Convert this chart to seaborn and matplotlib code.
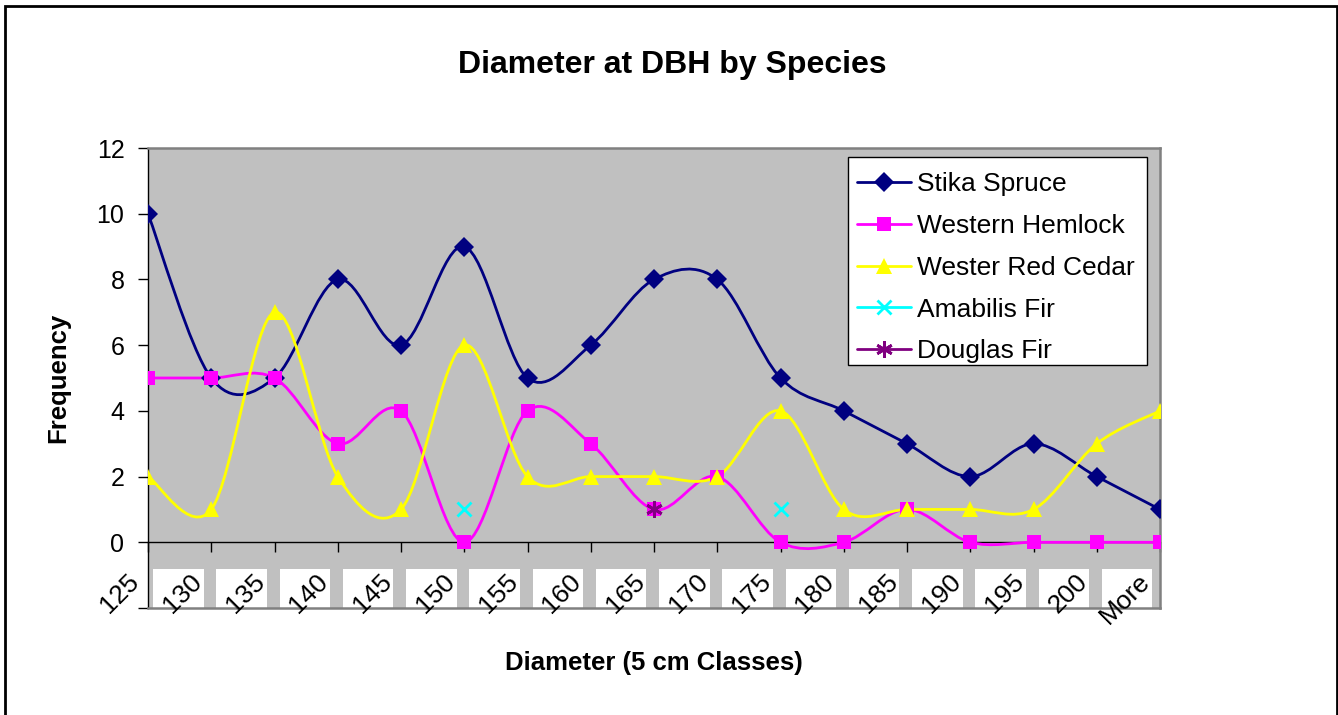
import numpy as np
import matplotlib
matplotlib.use("Agg")
import matplotlib.pyplot as plt
from matplotlib.path import Path
from matplotlib.patches import PathPatch, Rectangle
from matplotlib.lines import Line2D
import seaborn as sns

# data
classes = ["125", "130", "135", "140", "145", "150", "155", "160", "165",
           "170", "175", "180", "185", "190", "195", "200", "More"]
nan = np.nan
stika_spruce = [10, 5, 5, 8, 6, 9, 5, 6, 8, 8, 5, 4, 3, 2, 3, 2, 1]
western_hemlock = [5, 5, 5, 3, 4, 0, 4, 3, 1, 2, 0, 0, 1, 0, 0, 0, 0]
wester_red_cedar = [2, 1, 7, 2, 1, 6, 2, 2, 2, 2, 4, 1, 1, 1, 1, 3, 4]
amabilis_fir = [nan, nan, nan, nan, nan, 1, nan, nan, nan, nan, 1, nan, nan, nan, nan, nan, nan]
douglas_fir = [nan, nan, nan, nan, nan, nan, nan, nan, 1, nan, nan, nan, nan, nan, nan, nan, nan]

series = [
    ("Stika Spruce", stika_spruce, "#000080", "D", 10),
    ("Western Hemlock", western_hemlock, "#FF00FF", "s", 10.5),
    ("Wester Red Cedar", wester_red_cedar, "#FFFF00", "^", 11.5),
    ("Amabilis Fir", amabilis_fir, "#00FFFF", "x", 10),
    ("Douglas Fir", douglas_fir, "#800080", (6, 2, 0), 12),
]

sns.set_style("white")
plt.rcParams["font.family"] = ["Liberation Sans", "DejaVu Sans"]
plt.rcParams["text.color"] = "black"
plt.rcParams["ytick.labelcolor"] = "black"


def smooth_path(xs, ys):
    # Excel-like smoothed line: cubic bezier through the points
    pts = np.column_stack([xs, ys]).astype(float)
    n = len(pts)
    verts = [pts[0]]
    codes = [Path.MOVETO]
    for i in range(n - 1):
        p0 = pts[max(i - 1, 0)]
        p1 = pts[i]
        p2 = pts[i + 1]
        p3 = pts[min(i + 2, n - 1)]
        verts += [p1 + (p2 - p0) / 6, p2 - (p3 - p1) / 6, p2]
        codes += [Path.CURVE4] * 3
    return Path(verts, codes)


fig = plt.figure(figsize=(13.38, 7.15), dpi=100)
ax = fig.add_axes([148 / 1338, 107 / 715, 1012 / 1338, 460 / 715])
ax.set_facecolor("#C0C0C0")

x_idx = np.arange(len(classes))
handles = []
for name, vals, color, marker, ms in series:
    vals = np.array(vals, dtype=float)
    ok = ~np.isnan(vals)
    # split into runs of consecutive values, draw a smooth curve for each
    run = []
    for i in range(len(vals) + 1):
        if i < len(vals) and ok[i]:
            run.append(i)
        else:
            if len(run) > 1:
                ax.add_patch(PathPatch(smooth_path(x_idx[run], vals[run]), facecolor="none",
                                       edgecolor=color, lw=2, zorder=2))
            run = []
    mew = 2 if marker in ("x", (6, 2, 0)) else 0
    sns.lineplot(x=x_idx[ok], y=vals[ok], ax=ax, color=color, marker=marker, markersize=ms,
                 linestyle="none", markeredgewidth=mew, markeredgecolor=color,
                 legend=False, sort=False, zorder=3)
    handles.append(Line2D([], [], color=color, lw=2, marker=marker, markersize=ms,
                          markeredgewidth=mew, markeredgecolor=color, label=name))

ax.set_xlim(0, len(classes) - 1)
ax.set_ylim(-2, 12)
ax.set_yticks(range(-2, 13, 2))
ax.set_yticklabels([""] + [str(v) for v in range(0, 13, 2)])
ax.tick_params(axis="y", direction="out", length=7, width=1, color="black",
               labelsize=18, pad=10, left=True)
ax.set_xticks([])
ax.set_xlabel("")
ax.set_ylabel("")

for s in ["top", "right", "bottom"]:
    ax.spines[s].set_color("#808080")
    ax.spines[s].set_linewidth(1.8)
ax.spines["left"].set_color("black")
ax.spines["left"].set_linewidth(1)

# category axis crossing at zero
sec = ax.secondary_xaxis(2 / 14)
sec.set_xticks(x_idx)
sec.set_xticklabels([])
sec.tick_params(direction="out", length=7, width=1, color="black")
sec.spines["bottom"].set_color("black")
sec.spines["bottom"].set_linewidth(1)

# category labels on white boxes
for i, lab in enumerate(classes):
    ax.add_patch(Rectangle((i - 0.92, -2), 0.8, 1.18, facecolor="white",
                           edgecolor="none", zorder=1))
    ax.text(i - 0.21, -1.08, lab, rotation=45, ha="right", va="center",
            rotation_mode="anchor", fontsize=19, zorder=4)

# legend box drawn separately (Excel pads it unevenly)
ax.add_patch(Rectangle((848 / 1338, 1 - 365 / 715), 299 / 1338, 208 / 715,
                       transform=fig.transFigure, facecolor="white", edgecolor="black",
                       lw=1, clip_on=False, zorder=4.5))
leg = ax.legend(handles=handles, loc="upper left", bbox_to_anchor=(857 / 1338, 1 - 172.5 / 715),
                bbox_transform=fig.transFigure, frameon=False, fontsize=19,
                handlelength=2.05, handletextpad=0.23, labelspacing=0.67,
                borderpad=0, borderaxespad=0)
leg.set_zorder(5)

fig.text(672 / 1338, 1 - 65 / 715, "Diameter at DBH by Species", ha="center", va="center",
         fontsize=23, fontweight="bold")
fig.text(654 / 1338, 1 - 663 / 715, "Diameter (5 cm Classes)", ha="center", va="center",
         fontsize=18.5, fontweight="bold")
fig.text(58 / 1338, 1 - 378 / 715, "Frequency", ha="center", va="center", rotation=90,
         fontsize=18.5, fontweight="bold")

fig.patches.append(Rectangle((5 / 1338, -0.01), 1332 / 1338, 1.0016, transform=fig.transFigure,
                             fill=False, edgecolor="black", lw=2))

fig.savefig("out.png", dpi=100, facecolor="white")
